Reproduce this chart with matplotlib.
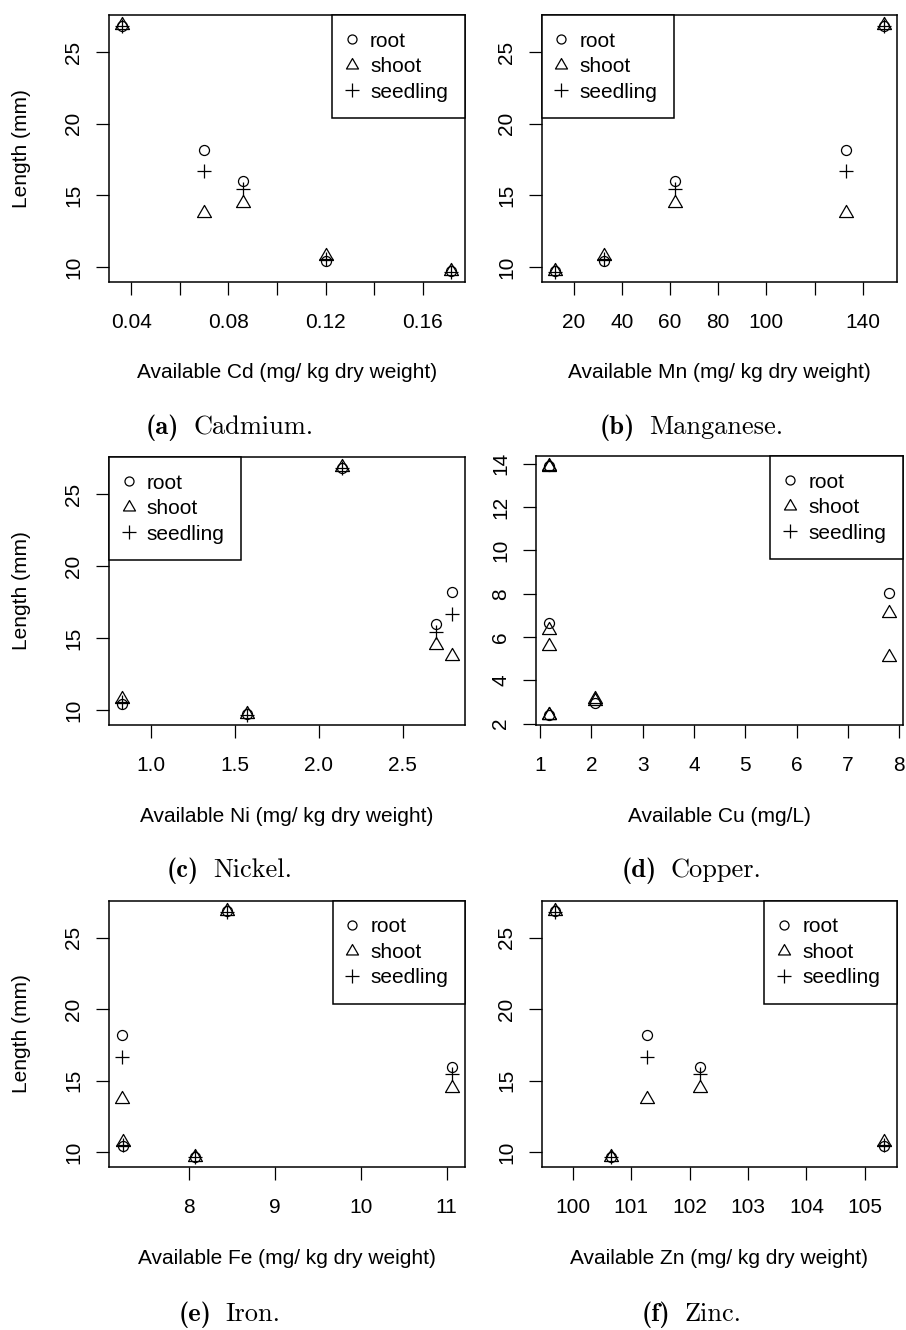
import matplotlib
matplotlib.use("Agg")
import matplotlib.pyplot as plt
from matplotlib.path import Path
from matplotlib.lines import Line2D
from matplotlib.offsetbox import TextArea, HPacker, AnnotationBbox

plt.rcParams['font.family'] = ['Liberation Sans', 'DejaVu Sans']

# five soils: lengths (mm)
root = [18.2, 16.0, 26.85, 10.45, 9.7]
shoot = [13.75, 14.5, 26.9, 10.75, 9.7]
seedling = [16.7, 15.45, 26.8, 10.55, 9.65]

# available metal in each soil
cd = [0.0699, 0.0862, 0.0363, 0.120, 0.1717]
mn = [132.9, 62.1, 148.6, 32.7, 12.2]
ni = [2.794, 2.70, 2.138, 0.826, 1.571]
fe = [7.22, 11.06, 8.44, 7.23, 8.066]
zn = [101.27, 102.17, 99.69, 105.32, 100.65]

# copper panel has its own values
cu = [1.18, 1.18, 1.18, 2.08, 7.80]
cu_root = [13.9, 6.63, 2.4, 2.95, 8.03]
cu_shoot = [13.85, 5.6, 2.4, 3.15, 5.09]
cu_seedling = [13.9, 6.32, 2.4, 3.05, 7.13]

xlabels = ["Available Cd (mg/ kg dry weight)", "Available Mn (mg/ kg dry weight)",
           "Available Ni (mg/ kg dry weight)", "Available Cu (mg/L)",
           "Available Fe (mg/ kg dry weight)", "Available Zn (mg/ kg dry weight)"]
captions = [("(a)", "Cadmium."), ("(b)", "Manganese."), ("(c)", "Nickel."),
            ("(d)", "Copper."), ("(e)", "Iron."), ("(f)", "Zinc.")]
xticks = [[0.04, 0.06, 0.08, 0.10, 0.12, 0.14, 0.16],
          [20, 40, 60, 80, 100, 120, 140],
          [1.0, 1.5, 2.0, 2.5],
          [1, 2, 3, 4, 5, 6, 7, 8],
          [8, 9, 10, 11],
          [100, 101, 102, 103, 104, 105]]
xticklabels = [["0.04", "", "0.08", "", "0.12", "", "0.16"],
               ["20", "40", "60", "80", "100", "", "140"],
               ["1.0", "1.5", "2.0", "2.5"],
               ["1", "2", "3", "4", "5", "6", "7", "8"],
               ["8", "9", "10", "11"],
               ["100", "101", "102", "103", "104", "105"]]
legend_loc = ["upper right", "upper left", "upper left", "upper right", "upper right", "upper right"]

W, H = 906, 1330
# axes boxes in pixels: left, right, top, bottom
boxes = [(109, 464.5, 15, 282), (541.7, 896.7, 15, 282),
         (109, 465, 457, 725), (535.7, 902.7, 456, 725),
         (109, 465, 900.7, 1167.3), (541.7, 896.7, 900.7, 1167.3)]
cap_pos = [(229.5, 428), (691.7, 428), (229.5, 871), (691.7, 871), (229.5, 1315), (691.7, 1315)]

tri = Path([(0, 1.5551), (1.3468, -0.7776), (-1.3468, -0.7776), (0, 1.5551)],
           [Path.MOVETO, Path.LINETO, Path.LINETO, Path.CLOSEPOLY])
mk = dict(ls='none', mfc='none', mec='black', mew=0.9)
ms_o, ms_t, ms_p = 7.2, 11.6, 10.4

fig = plt.figure(figsize=(W / 100, H / 100), dpi=100)

xs = [cd, mn, ni, cu, fe, zn]
for i in range(6):
    l, r, t, b = boxes[i]
    ax = fig.add_axes([l / W, 1 - b / H, (r - l) / W, (b - t) / H])
    x = xs[i]
    if i == 3:
        ys = [cu_root, cu_shoot, cu_seedling]
        marks = [('o', ms_o), (tri, ms_t), (tri, ms_t)]
        yt = [2, 4, 6, 8, 10, 12, 14]
    else:
        ys = [root, shoot, seedling]
        marks = [('o', ms_o), (tri, ms_t), ('+', ms_p)]
        yt = [10, 15, 20, 25]
    for y, (m, s) in zip(ys, marks):
        ax.plot(x, y, marker=m, ms=s, **mk)

    # R style 4% range extension
    x0, x1 = min(x), max(x)
    ally = [v for y in ys for v in y]
    y0, y1 = min(ally), max(ally)
    ax.set_xlim(x0 - 0.04 * (x1 - x0), x1 + 0.04 * (x1 - x0))
    ax.set_ylim(y0 - 0.04 * (y1 - y0), y1 + 0.04 * (y1 - y0))

    ax.set_xticks(xticks[i])
    ax.set_xticklabels(xticklabels[i])
    ax.set_yticks(yt)
    ax.set_yticklabels([str(v) for v in yt], rotation=90, va='center')
    ax.tick_params(axis='both', direction='out', length=9.5, width=0.9, labelsize=15, colors='black')
    ax.tick_params(axis='x', pad=12.5)
    ax.tick_params(axis='y', pad=9)
    for sp in ax.spines.values():
        sp.set_linewidth(1.1)
        sp.set_color('black')

    ax.set_xlabel(xlabels[i], fontsize=15, va='center')
    ax.xaxis.set_label_coords(0.5, -91 / (b - t))
    if i % 2 == 0:
        ax.set_ylabel("Length (mm)", fontsize=15, va='center')
        ax.yaxis.set_label_coords(-(l - 21.7) / (r - l), 0.5)

    handles = [Line2D([], [], marker='o', ms=6.5, **mk),
               Line2D([], [], marker=tri, ms=10, **mk),
               Line2D([], [], marker='+', ms=ms_p, **mk)]
    leg = ax.legend(handles, ["root", "shoot", "seedling"], loc=legend_loc[i], fontsize=15,
                    borderaxespad=0, fancybox=False, framealpha=1, edgecolor='black',
                    borderpad=0.8, labelspacing=0.31, handlelength=0.3, handletextpad=0.72)
    leg.get_frame().set_linewidth(1.1)

    lab, name = captions[i]
    box = HPacker(children=[TextArea(lab, textprops=dict(fontfamily='cmb10', fontsize=19)),
                            TextArea(name, textprops=dict(fontfamily='cmr10', fontsize=19))],
                  sep=10, pad=0, align='baseline')
    cx, cy = cap_pos[i]
    fig.add_artist(AnnotationBbox(box, (cx, H - cy), xycoords='figure pixels',
                                  frameon=False, box_alignment=(0.5, 0.5)))

fig.savefig("out.png", dpi=100)
